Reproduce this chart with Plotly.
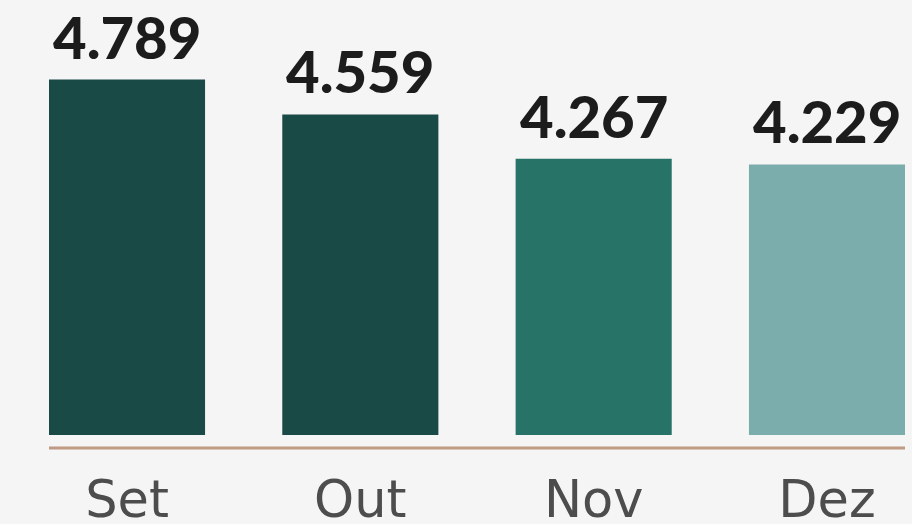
import plotly.graph_objects as go

categories = ["Set", "Out", "Nov", "Dez"]
values = [4.789, 4.559, 4.267, 4.229]
value_labels = ["4.789", "4.559", "4.267", "4.229"]
bar_colors = ["#1a4a45", "#1a4a45", "#287367", "#7aadab"]

BG = "#f5f5f5"
y_min = 2.443
px_per_unit = 151.5
plot_top, plot_bottom = 0, 435
y_max = y_min + (plot_bottom - plot_top) / px_per_unit

fig = go.Figure()
fig.add_trace(go.Bar(
    x=categories, y=values,
    marker=dict(color=bar_colors, line=dict(width=0)),
    hoverinfo="skip",
))

for c, v, t in zip(categories, values, value_labels):
    fig.add_annotation(
        x=c, y=v, text=t, showarrow=False, yanchor="bottom", xanchor="center",
        yshift=7,
        font=dict(family="Lato", size=58, color="#1c1c1c", weight=900),
    )

fig.add_shape(type="line", xref="paper", yref="paper",
              x0=0, x1=1, y0=-13 / (plot_bottom - plot_top), y1=-13 / (plot_bottom - plot_top),
              line=dict(color="#c09a84", width=3))

fig.update_layout(
    width=912, height=524,
    margin=dict(l=49, r=7, t=plot_top, b=524 - plot_bottom, pad=0, autoexpand=False),
    paper_bgcolor=BG, plot_bgcolor=BG,
    bargap=0.331,
    showlegend=False,
    xaxis=dict(range=[-0.3343, 3.3343], showgrid=False, zeroline=False, showline=False,
               automargin=False,
               ticks="", tickfont=dict(family="DejaVu Sans", size=51, color="#4d4d4d"),
               ticklabelstandoff=30),
    yaxis=dict(range=[y_min, y_max], visible=False, showgrid=False, zeroline=False,
               automargin=False),
)

fig.write_html(
    "out.html",
    config={"displayModeBar": False},
    post_script="document.body.style.margin='0';document.body.style.background='%s';" % BG,
)
